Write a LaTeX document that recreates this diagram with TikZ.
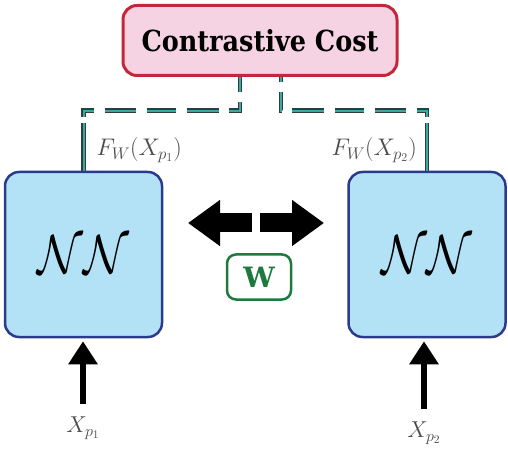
\RequirePackage{fix-cm}
\documentclass[tikz,border=0pt]{standalone}
\usepackage{fontspec}
\newfontfamily\slabfont[FakeStretch=0.88]{DejaVu Serif}
\newfontfamily\wfont{DejaVu Serif}
\usetikzlibrary{arrows.meta,calc}
\definecolor{costfill}{HTML}{F5D3E2}
\definecolor{costedge}{HTML}{C2283C}
\definecolor{netfill}{HTML}{B3E1F6}
\definecolor{netedge}{HTML}{2C3A8E}
\definecolor{linkteal}{HTML}{3AA9A6}
\definecolor{linkdark}{HTML}{2E3E40}
\definecolor{wgreen}{HTML}{1E7A3C}
\definecolor{labelgrey}{HTML}{4A4A4A}
\tikzset{
  costbox/.style={
    draw=costedge,
    fill=costfill,
    line width=3pt,
    rounded corners=14pt,
    minimum width=274pt,
    minimum height=70pt,
    font=\slabfont\bfseries\fontsize{29}{29}\selectfont
  },
  netbox/.style={
    draw=netedge,
    fill=netfill,
    line width=2.5pt,
    rounded corners=14pt,
    minimum width=157pt,
    minimum height=165pt,
    font=\fontsize{55}{55}\selectfont
  },
  wbox/.style={
    draw=wgreen,
    fill=white,
    line width=2.5pt,
    rounded corners=9pt,
    minimum width=64pt,
    minimum height=45pt,
    text=wgreen,
    font=\wfont\bfseries\fontsize{28}{28}\selectfont
  },
  flabel/.style={text=labelgrey, inner sep=1pt, font=\fontsize{24}{24}\selectfont},
  inlabel/.style={text=labelgrey, inner sep=2pt, font=\fontsize{23}{23}\selectfont},
  link/.style={
    draw=linkdark,
    double=linkteal,
    double distance=2pt,
    line width=1.3pt,
    dash pattern=on 48pt off 6pt on 16pt off 11pt on 31pt off 11pt on 29pt off 11pt on 32pt off 10pt on 20pt off 10pt on 20pt off 4pt
  },
  share/.style={-{Stealth[inset=0pt,length=32pt,width=44pt]}, line width=19pt, black},
  input/.style={-{Triangle[length=23pt,width=28pt]}, line width=6pt, black, shorten >=3pt}
}
\newcommand{\netname}{\scalebox{0.86}[1]{$\mathcal{N}\mathcal{N}$}}
\begin{document}
\begin{tikzpicture}[x=1pt,y=1pt]
\useasboundingbox (0,0) rectangle (508,450);

\node[costbox] (cost) at (260,409.5) {Contrastive Cost};
\node[netbox] (nnL) at (83.5,195.5) {\netname};
\node[netbox] (nnR) at (427,195.5) {\netname};
\node[wbox] (w) at (259,173) {W};

% outputs up to the cost
\draw[link] (nnL.north) -- ++(0,60) -| ([xshift=-20pt]cost.south);
\draw[link] (nnR.north) -- ++(0,60) -| ([xshift=21pt]cost.south);
\node[flabel, anchor=south west] (fL) at ([xshift=12pt,yshift=7pt]nnL.north) {$F_W(X_{p_1})$};
\node[flabel, anchor=south east] (fR) at ([xshift=-9pt,yshift=7pt]nnR.north) {$F_W(X_{p_2})$};

% shared weights
\coordinate (gapL) at (252,227);
\coordinate (tipL) at (188,227);
\coordinate (gapR) at (260,227);
\coordinate (tipR) at (324,227);
\draw[share] (gapL) -- (tipL);
\draw[share] (gapR) -- (tipR);

% inputs
\node[inlabel] (xL) at (83,22) {$X_{p_1}$};
\node[inlabel] (xR) at (424,17) {$X_{p_2}$};
\draw[input] ([yshift=11pt]xL.north) -- (xL.north |- nnL.south);
\draw[input] ([yshift=11pt]xR.north) -- (xR.north |- nnR.south);

\end{tikzpicture}
\end{document}
